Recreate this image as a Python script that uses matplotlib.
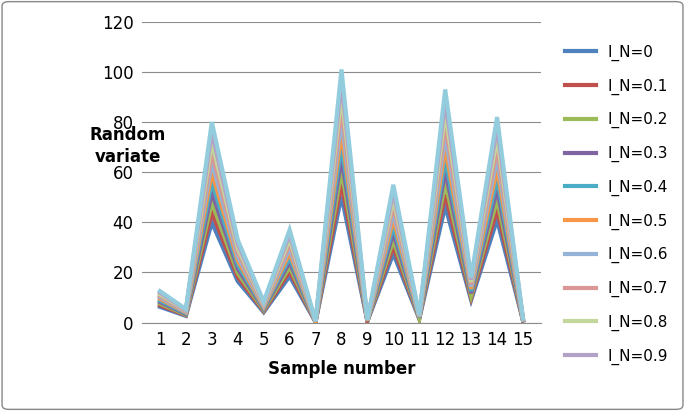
import matplotlib
matplotlib.use("Agg")
import matplotlib.pyplot as plt
from matplotlib.patches import FancyBboxPatch

samples = list(range(1, 16))
labels = ["I_N=0", "I_N=0.1", "I_N=0.2", "I_N=0.3", "I_N=0.4", "I_N=0.5",
          "I_N=0.6", "I_N=0.7", "I_N=0.8", "I_N=0.9", "I_N=1"]
s0 = [6.3,2.7,40,16.5,4.2,18.5,0.3,50.5,0.6,27.5,1.5,46.5,9,41,0.8]
s1 = [6.9,3.0,44,18.2,4.6,20.4,0.3,55.6,0.7,30.3,1.7,51.2,9.9,45.1,0.9]
s2 = [7.6,3.2,48,19.8,5.0,22.2,0.4,60.6,0.7,33.0,1.8,55.8,10.8,49.2,1.0]
s3 = [8.2,3.5,52,21.5,5.5,24.1,0.4,65.7,0.8,35.8,2.0,60.5,11.7,53.3,1.0]
s4 = [8.8,3.8,56,23.1,5.9,25.9,0.4,70.7,0.8,38.5,2.1,65.1,12.6,57.4,1.1]
s5 = [9.5,4.1,60,24.8,6.3,27.8,0.5,75.8,0.9,41.3,2.3,69.8,13.5,61.5,1.2]
s6 = [10.1,4.3,64,26.4,6.7,29.6,0.5,80.8,1.0,44.0,2.4,74.4,14.4,65.6,1.3]
s7 = [10.7,4.6,68,28.1,7.1,31.5,0.5,85.9,1.0,46.8,2.6,79.1,15.3,69.7,1.4]
s8 = [11.3,4.9,72,29.7,7.6,33.3,0.5,90.9,1.1,49.5,2.7,83.7,16.2,73.8,1.4]
s9 = [12.0,5.1,76,31.4,8.0,35.2,0.6,96.0,1.1,52.3,2.9,88.4,17.1,77.9,1.5]
s10 = [12.6,5.4,80,33,8.4,37,0.6,101,1.2,55,3,93,18,82,1.6]
series = [s0, s1, s2, s3, s4, s5, s6, s7, s8, s9, s10]
colors = ["#4F81BD", "#C0504D", "#9BBB59", "#8064A2", "#4BACC6", "#F79646",
          "#95B3D7", "#D99694", "#C3D69B", "#B3A2C7", "#93CDDD"]

fig = plt.figure(figsize=(6.85, 4.11), dpi=100)
fig.patches.append(FancyBboxPatch((0.003, 0.004), 0.994, 0.992, boxstyle="round,pad=0,rounding_size=0.01",
                                  transform=fig.transFigure, fill=False, edgecolor="#888888", lw=1))
ax = fig.add_axes([0.207, 0.215, 0.583, 0.732])
handles = []
for vals, c, lab in zip(series, colors, labels):
    h, = ax.plot(samples, vals, color=c, lw=3, label=lab, solid_joinstyle="miter")
    handles.append(h)
ax.set_xlim(0.3, 15.7)
ax.set_ylim(0, 120)
ax.set_yticks(range(0, 121, 20))
ax.set_xticks(samples)
ax.yaxis.grid(True, color="#8c8c8c", lw=0.8)
ax.set_axisbelow(True)
for sp in ["top", "right", "left"]:
    ax.spines[sp].set_visible(False)
ax.spines["bottom"].set_color("#8c8c8c")
ax.tick_params(length=0, labelsize=12, pad=6)
ax.set_xlabel("Sample number", fontsize=12, fontweight="bold", labelpad=8)
fig.text(0.187, 0.645, "Random\nvariate", fontsize=12, fontweight="bold", ha="center", va="center", linespacing=1.3)
fig.legend(handles[:10], labels[:10], loc="upper left", bbox_to_anchor=(0.805, 0.925), frameon=False,
           fontsize=11, handlelength=2.0, labelspacing=1.15)
fig.savefig("out.png", dpi=100)
